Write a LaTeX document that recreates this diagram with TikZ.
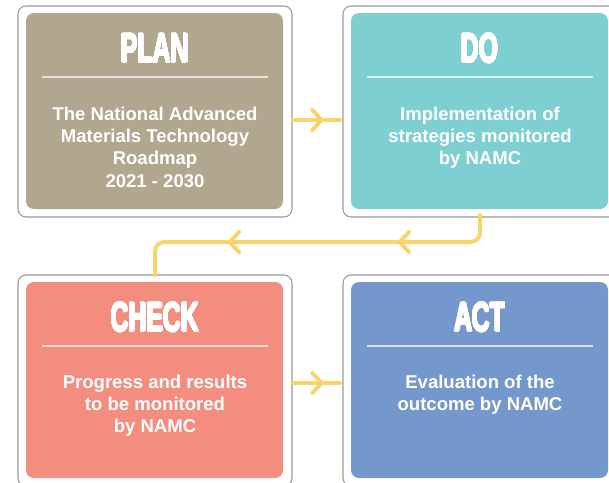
\documentclass[tikz,border=0pt]{standalone}
\usepackage{fontspec}
\usepackage[copies]{contour}
\contournumber{24}
\contourlength{0.4pt}
\setmainfont{Liberation Sans}
\newfontfamily\titlefont[FakeStretch=0.6]{Liberation Sans Bold}
\usetikzlibrary{arrows.meta,decorations.markings,calc}
\definecolor{plancol}{HTML}{B1A68E}
\definecolor{docol}{HTML}{7ECFD2}
\definecolor{checkcol}{HTML}{F38D7F}
\definecolor{actcol}{HTML}{7598CC}
\definecolor{arrowcol}{HTML}{F8D46C}
\definecolor{framegray}{HTML}{9A9A9A}
\newcommand{\heavytitle}[1]{\contour{white}{#1}}
\begin{document}
\begin{tikzpicture}[x=0.75pt,y=-0.75pt,
  frame/.style={draw=framegray, line width=0.8pt, rounded corners=6pt, fill=white,
    minimum width=205.5pt, minimum height=158.25pt, inner sep=0pt, outer sep=0pt},
  panel/.style={fill=#1, rounded corners=6pt, draw=none,
    minimum width=192.75pt, minimum height=147pt, inner sep=0pt, outer sep=0pt},
  titletext/.style={text=white, inner sep=0pt, anchor=base,
    font=\fontsize{31pt}{31pt}\titlefont},
  bodytext/.style={text=white, inner sep=0pt, anchor=base, align=center,
    font=\fontsize{13.9pt}{16.7pt}\selectfont\bfseries},
  divider/.style={draw=white, draw opacity=0.7, line width=0.8pt},
  conn/.style={draw=arrowcol, line width=3pt, line cap=round},
  chevtip/.style={decoration={markings, mark=at position #1 with
    {\arrow{Straight Barb[length=7pt,width=15pt,round]}}}, postaction={decorate}}
]
\useasboundingbox (0,0) rectangle (609,482);
\clip (0,0) rectangle (609,482);
\fill[white] (0,0) rectangle (609,482);

% outer frames
\node[frame] (planout)  at (155,111.5) {};
\node[frame] (doout)    at (480,111.5) {};
\node[frame] (checkout) at (155,380.5) {};
\node[frame] (actout)   at (480,380.5) {};

% coloured panels
\node[panel=plancol]  (planin)  at (154.5,111) {};
\node[panel=docol]    (doin)    at (479.5,111) {};
\node[panel=checkcol] (checkin) at (154.5,380) {};
\node[panel=actcol]   (actin)   at (479.5,380) {};

% dividers
\foreach \p in {planin,doin,checkin,actin}{
  \draw[divider] ($(\p.north west)+(16,64)$) -- ($(\p.north east)+(-15,64)$);
}

% titles
\node[titletext] (plantitle)  at (155,62.5)  {\heavytitle{PLAN}};
\node[titletext] (dotitle)    at (480,62.5)  {\heavytitle{DO}};
\node[titletext] (checktitle) at (155,331.5) {\heavytitle{CHECK}};
\node[titletext] (acttitle)   at (480,331.5) {\heavytitle{ACT}};

% body texts (base = baseline of the last line)
\node[bodytext] (plantext) at (155,187) {The National Advanced\\Materials Technology\\Roadmap\\2021 - 2030};
\node[bodytext] (dotext) at (480,164.6) {Implementation of\\strategies monitored\\by NAMC};
\node[bodytext] (checktext) at (155,432.6) {Progress and results\\to be monitored\\by NAMC};
\node[bodytext] (acttext) at (480,410.3) {Evaluation of the\\outcome by NAMC};

% connectors
\coordinate (ytop) at (0,120);
\coordinate (ybot) at (0,383);
\draw[conn, chevtip=23pt] ($(planout.east |- ytop)+(1,0)$) -- ($(doout.west |- ytop)+(-3,0)$);
\draw[conn, chevtip=23pt] ($(checkout.east |- ybot)+(1,0)$) -- ($(actout.west |- ybot)+(-3,0)$);
\draw[conn, rounded corners=7pt,
  decoration={markings,
    mark=at position 79pt with {\arrow{Straight Barb[length=7pt,width=15pt,round]}},
    mark=at position 206.5pt with {\arrow{Straight Barb[length=7pt,width=15pt,round]}}},
  postaction={decorate}]
  ($(doout.south)+(0,-2)$) |- ($(checkout.north)+(0,-33)$) -- (checkout.north);
\end{tikzpicture}
\end{document}
